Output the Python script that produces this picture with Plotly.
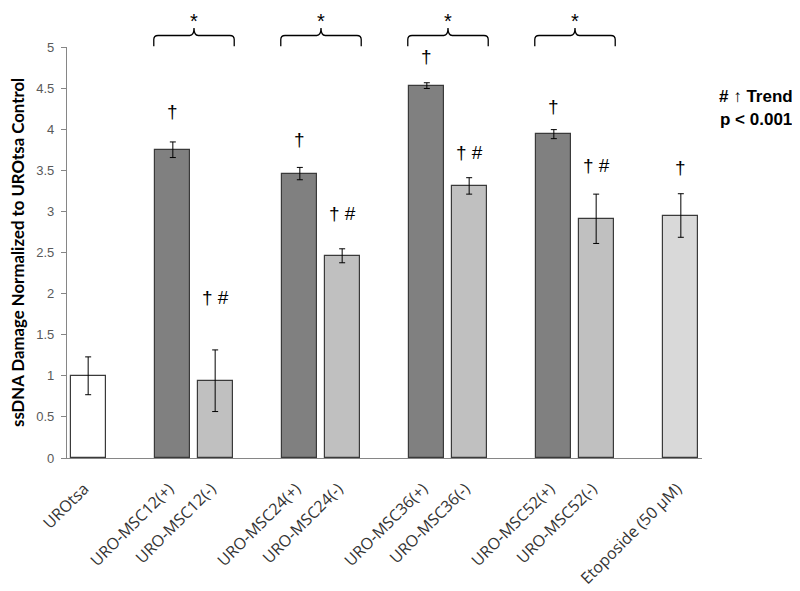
import plotly.graph_objects as go

# ---- data ----
groups = [
    ["UROtsa"],
    ["URO-MSC12(+)", "URO-MSC12(-)"],
    ["URO-MSC24(+)", "URO-MSC24(-)"],
    ["URO-MSC36(+)", "URO-MSC36(-)"],
    ["URO-MSC52(+)", "URO-MSC52(-)"],
    ["Etoposide (50 µM)"],
]
values = [1.00, 3.75, 0.94, 3.46, 2.46, 4.53, 3.31, 3.94, 2.91, 2.95]
errors = [0.23, 0.095, 0.375, 0.075, 0.085, 0.035, 0.10, 0.055, 0.30, 0.265]
marks = ["", "†", "† #", "†", "† #", "†", "† #", "†", "† #", "†"]
mark_y = [None, 4.22, 1.95, 3.88, 2.97, 4.88, 3.72, 4.28, 3.56, 3.54]
bracket_pairs = [("URO-MSC12(+)", "URO-MSC12(-)"), ("URO-MSC24(+)", "URO-MSC24(-)"),
                 ("URO-MSC36(+)", "URO-MSC36(-)"), ("URO-MSC52(+)", "URO-MSC52(-)")]
y_ticks = [0, 0.5, 1, 1.5, 2, 2.5, 3, 3.5, 4, 4.5, 5]

# ---- positions: one empty slot between groups ----
categories, positions = [], []
slot = 0
for g in groups:
    for c in g:
        categories.append(c)
        positions.append(slot)
        slot += 1
    slot += 1
pos_of = dict(zip(categories, positions))

def fill_for(c):
    if c == "UROtsa":
        return "#ffffff"
    if c.startswith("Etoposide"):
        return "#d9d9d9"
    if "(+)" in c:
        return "#808080"
    return "#c0c0c0"

colors = [fill_for(c) for c in categories]

fig = go.Figure()
fig.add_trace(go.Bar(
    x=positions, y=values, width=0.82,
    marker=dict(color=colors, line=dict(color="#3a3a3a", width=1.2)),
    error_y=dict(type="data", array=errors, visible=True, color="#000000",
                 thickness=1, width=3),
    showlegend=False,
))

YMAX = 5.0
def py(v):
    return v / YMAX

annotations = []
for c, m, yv in zip(categories, marks, mark_y):
    if m:
        annotations.append(dict(x=pos_of[c], y=yv, xref="x", yref="y", text=m,
                                xanchor="center", yanchor="middle",
                                showarrow=False, font=dict(family="Liberation Sans", size=19, color="#000")))

shapes = []
for a, b in bracket_pairs:
    x0 = pos_of[a] - 0.45
    x1 = pos_of[b] + 0.45
    xc = (x0 + x1) / 2
    ylo, yl, yt = py(5.01), py(5.14), py(5.23)
    r = 0.1
    yr = py(5.09)
    path = (f"M {x0},{ylo} L {x0},{yr} Q {x0},{yl} {x0 + r},{yl} "
            f"L {xc - r},{yl} Q {xc},{yl} {xc},{yt} Q {xc},{yl} {xc + r},{yl} "
            f"L {x1 - r},{yl} Q {x1},{yl} {x1},{yr} L {x1},{ylo}")
    shapes.append(dict(type="path", path=path, xref="x", yref="paper",
                       line=dict(color="#000", width=1.3)))
    annotations.append(dict(x=xc, y=1.094, xref="x", yref="paper", text="*",
                            xanchor="center", yanchor="top",
                            showarrow=False, font=dict(family="Liberation Sans", size=20, color="#000")))

annotations.append(dict(x=1.085, y=0.879, xref="paper", yref="paper", text="<b># ↑ Trend</b>",
                        xanchor="center", yanchor="middle",
                        showarrow=False, font=dict(family="Liberation Sans", size=17, color="#000")))
annotations.append(dict(x=1.085, y=0.824, xref="paper", yref="paper", text="<b>p &lt; 0.001</b>",
                        xanchor="center", yanchor="middle",
                        showarrow=False, font=dict(family="Liberation Sans", size=17, color="#000")))
annotations.append(dict(x=-0.078, y=0.5, xref="paper", yref="paper",
                        text="<b>ssDNA Damage Normalized to UROtsa Control</b>", textangle=-90,
                        xanchor="center", yanchor="middle",
                        showarrow=False, font=dict(family="Lato", size=16.8, color="#000")))

# page body has an 8px margin, so the figure is offset by 8px right/down
fig.update_layout(
    width=800, height=591,
    margin=dict(l=59, r=106, t=39, b=141, autoexpand=False),
    plot_bgcolor="#ffffff", paper_bgcolor="#ffffff",
    shapes=shapes, annotations=annotations,
    bargap=0,
)
fig.update_xaxes(
    range=[-0.5, slot - 1.5], tickmode="array", tickvals=positions, ticktext=categories,
    tickangle=-45, showgrid=False, zeroline=False, showline=True, linecolor="#868686",
    linewidth=1.3, ticks="", ticklabelstandoff=14, ticklabelshift=-4, automargin=False,
    tickfont=dict(family="Open Sans", size=16, color="#333333"),
)
fig.update_yaxes(
    range=[0, YMAX], tickmode="array", tickvals=y_ticks, showgrid=False, zeroline=False,
    showline=True, linecolor="#868686", linewidth=1.3, ticks="outside", ticklen=5,
    tickcolor="#868686", ticklabelstandoff=4, automargin=False,
    tickfont=dict(family="Liberation Sans", size=13, color="#595959"),
)

fig.write_html("out.html")
